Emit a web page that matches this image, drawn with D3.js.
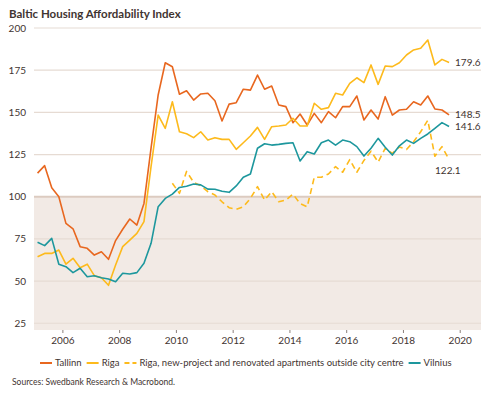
<!DOCTYPE html>
<html>
<head>
<meta charset="utf-8">
<script src="https://cdn.jsdelivr.net/npm/d3@7"></script>
<style>
  body { margin: 0; background: #fff; }
  svg { font-family: Lato, 'Open Sans', sans-serif; }
</style>
</head>
<body>
<svg id="chart"></svg>
<script>
const d3 = window.d3

// quarterly, 2005Q1 .. 2019Q3
const startYear = 2005
const quarters = d3.range(59).map(i => `${startYear + Math.floor(i / 4)}Q${(i % 4) + 1}`)

const tallinn = [114, 118.4, 105.3, 100, 84.2, 81, 70.4, 69.4, 65.4, 67.4,
  62.9, 74, 80.7, 86.8, 83.2, 96, 129, 160.3, 179.4, 177,
  160.7, 162.8, 157.3, 160.9, 161.3, 156.9, 144.9, 154.9, 155.7, 163.7,
  163.2, 172.1, 163.7, 165.6, 154.4, 153.4, 143.9, 149, 142.5, 149.4,
  143.9, 150.4, 146.8, 153.4, 153.4, 159.7, 145.5, 151.4, 146, 159.3,
  148.4, 151.4, 151.8, 156.3, 154.4, 159.7, 152, 151.4, 148.5]

const riga = [64.4, 66.4, 66.4, 68.4, 60, 63.5, 57.9, 60, 53.2, 52,
  47.5, 59.5, 70.4, 74.3, 78.3, 85.2, 118, 148.4, 140.5, 156.3,
  138.5, 137.3, 135, 138.5, 133.6, 135, 134, 134, 128.1, 132,
  136, 141.1, 134, 141.5, 141.9, 142.5, 146.5, 141.9, 141.9, 155.4,
  151.8, 152.8, 161.3, 160.3, 167.2, 170.5, 167.6, 178.1, 166.6, 177.5,
  177.1, 179.4, 184, 187, 188, 192.9, 178.1, 181.4, 179.6]

const rigaNew = [null, null, null, null, null, null, null, null, null, null,
  null, null, null, null, null, null, null, null, null, 108,
  102, 115, 108.5, 106.5, 103, 101, 97, 93.5, 92.5, 94,
  99, 106, 98, 103, 97, 98, 101.5, 96, 94, 111.5,
  111.5, 113.5, 117.8, 114.5, 122, 114.5, 121.5, 127, 120.5, 128.7,
  125.7, 129.5, 128, 132.6, 138.5, 145.3, 124, 129.7, 122.1]

const vilnius = [73, 71, 75.3, 60, 58.5, 55, 57.6, 52.6, 53.2, 52,
  51.2, 49.6, 54.6, 54.2, 55, 60.5, 72.4, 94.1, 99, 101.5,
  105.5, 106.2, 107.5, 107, 104.5, 104.4, 103.2, 102.6, 106.4, 111.5,
  113.5, 128.7, 131.4, 130.6, 131, 131.6, 132, 121.2, 126.7, 125.3,
  132, 133.6, 130.6, 133.6, 132.6, 129.7, 124.1, 128.7, 134.6, 129.3,
  124.7, 130.2, 133.6, 131.6, 134.6, 137.2, 140.5, 143.9, 141.6]

const yTicks = [25, 50, 75, 100, 125, 150, 175, 200]
const xTicks = [2006, 2008, 2010, 2012, 2014, 2016, 2018, 2020]

const seriesNames = ['Tallinn', 'Riga', 'Riga, new-project and renovated apartments outside city centre', 'Vilnius']
const seriesColors = ['#e8671f', '#fdba1c', '#fdba1c', '#1d979d']
const seriesDash = [null, null, '6,4', null]
const seriesData = [tallinn, riga, rigaNew, vilnius]

const width = 500
const height = 398
const margin = {top: 28, right: 19, bottom: 68, left: 34}
const textColor = '#3f3431'

const svg = d3.select('#chart').attr('width', width).attr('height', height)

const quarterTime = q => +q.slice(0, 4) + (+q.slice(5) - 1) / 4 + 0.125

const x = d3.scaleLinear()
  .domain([2005, 2020.75])
  .range([margin.left, width - margin.right])
const y = d3.scaleLinear()
  .domain([21, 200])
  .range([height - margin.bottom, margin.top])

// shaded band below 100
svg.append('rect')
  .attr('x', x.range()[0])
  .attr('y', y(100))
  .attr('width', x.range()[1] - x.range()[0])
  .attr('height', y(21) - y(100))
  .attr('fill', '#f2eae5')

// gridlines
svg.append('g')
  .selectAll('line')
  .data(yTicks)
  .join('line')
  .attr('x1', x.range()[0])
  .attr('x2', x.range()[1])
  .attr('y1', d => y(d))
  .attr('y2', d => y(d))
  .attr('stroke', d => d === 100 ? '#dccbc0' : '#e6dbd3')
  .attr('stroke-width', d => d === 100 ? 2 : 1.2)

// y labels
svg.append('g')
  .selectAll('text')
  .data(yTicks)
  .join('text')
  .attr('x', 26)
  .attr('y', d => y(d))
  .attr('dy', '0.35em')
  .attr('text-anchor', 'end')
  .attr('font-size', 10)
  .attr('fill', textColor)
  .text(d => d)

// x axis
const xAxis = svg.append('g')
  .attr('transform', `translate(0,${y(21)})`)
  .call(d3.axisBottom(x).tickValues(xTicks).tickFormat(d3.format('d')).tickSize(3).tickPadding(4))
xAxis.select('.domain').remove()
xAxis.selectAll('line').attr('stroke', '#8a7f7b')
xAxis.selectAll('text')
  .attr('font-size', 10)
  .attr('font-family', 'Lato, sans-serif')
  .attr('fill', textColor)

// lines
const line = d3.line()
  .defined(d => d.v !== null)
  .x(d => x(quarterTime(d.q)))
  .y(d => y(d.v))

seriesData.forEach((values, k) => {
  svg.append('path')
    .datum(values.map((v, i) => ({q: quarters[i], v})))
    .attr('fill', 'none')
    .attr('stroke', seriesColors[k])
    .attr('stroke-width', 1.6)
    .attr('stroke-linejoin', 'round')
    .attr('stroke-dasharray', seriesDash[k])
    .attr('d', line)
})

// end labels
const last = quarters[quarters.length - 1]
const endLabels = [
  {v: riga[riga.length - 1], dx: 6, dy: 0},
  {v: tallinn[tallinn.length - 1], dx: 6, dy: 0},
  {v: vilnius[vilnius.length - 1], dx: 6, dy: 0},
  {v: rigaNew[rigaNew.length - 1], dx: -14, dy: 11}
]
svg.append('g')
  .selectAll('text')
  .data(endLabels)
  .join('text')
  .attr('x', d => x(quarterTime(last)) + d.dx)
  .attr('y', d => y(d.v) + d.dy)
  .attr('dy', '0.35em')
  .attr('font-size', 10)
  .attr('fill', textColor)
  .text(d => d3.format('.1f')(d.v))

// title
svg.append('text')
  .attr('x', 9)
  .attr('y', 18)
  .attr('font-size', 11.5)
  .attr('font-weight', 'bold')
  .attr('fill', textColor)
  .text('Baltic Housing Affordability Index')

// legend
const legend = svg.append('g').attr('transform', 'translate(40,363)')
let lx = 0
seriesNames.forEach((name, k) => {
  legend.append('line')
    .attr('x1', lx).attr('x2', lx + 12)
    .attr('stroke', seriesColors[k])
    .attr('stroke-width', 2)
    .attr('stroke-dasharray', seriesDash[k] ? '5,3' : null)
  const t = legend.append('text')
    .attr('x', lx + 15)
    .attr('dy', '0.35em')
    .attr('font-size', 9.5)
    .attr('fill', textColor)
    .text(name)
  lx += 15 + t.node().getComputedTextLength() + 5
})

// source
svg.append('text')
  .attr('x', 12)
  .attr('y', 385)
  .attr('font-size', 8.5)
  .attr('fill', textColor)
  .text('Sources: Swedbank Research & Macrobond.')
</script>
</body>
</html>
